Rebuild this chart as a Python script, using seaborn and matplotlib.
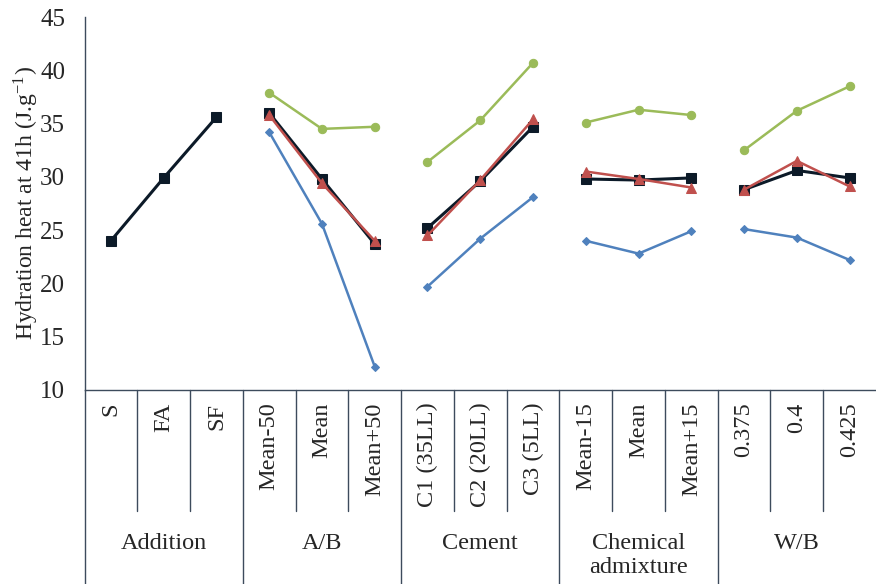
import numpy as np
import pandas as pd
import matplotlib
matplotlib.use('Agg')
import matplotlib.pyplot as plt
import seaborn as sns

# categorias del eje x y grupos
categories = ['S', 'FA', 'SF', 'Mean-50', 'Mean', 'Mean+50',
              'C1 (35LL)', 'C2 (20LL)', 'C3 (5LL)',
              'Mean-15', 'Mean', 'Mean+15', '0.375', '0.4', '0.425']
groups = ['Addition', 'A/B', 'Cement', 'Chemical\nadmixture', 'W/B']
group_sizes = [3, 3, 3, 3, 3]

nan = np.nan
# valores (J/g a 41h)
serie_negra = [24.0, 29.9, 35.6, 36.0, 29.8, 23.7, 25.2, 29.6, 34.7,
               29.8, 29.7, 29.9, 28.8, 30.6, 29.9]
serie_roja = [nan, nan, nan, 35.8, 29.4, 24.0, 24.5, 29.7, 35.4,
              30.5, 29.8, 29.0, 28.8, 31.5, 29.1]
serie_verde = [nan, nan, nan, 37.9, 34.5, 34.7, 31.4, 35.3, 40.7,
               35.1, 36.3, 35.8, 32.5, 36.2, 38.5]
serie_azul = [nan, nan, nan, 34.2, 25.6, 12.2, 19.7, 24.2, 28.1,
              24.0, 22.8, 24.9, 25.1, 24.3, 22.2]

# tabla larga para seaborn
grupo_de = np.repeat(np.arange(len(groups)), group_sizes)
pos = np.arange(len(categories))

def tabla(vals):
    df = pd.DataFrame({'x': pos, 'y': vals, 'grupo': grupo_de})
    return df.dropna()

sns.set_style('white')
plt.rcParams['font.family'] = ['Liberation Serif', 'DejaVu Serif']
plt.rcParams['mathtext.fontset'] = 'stix'

fig = plt.figure(figsize=(8.76, 5.84), dpi=100)
ax = fig.add_axes([84.5 / 876, 194 / 584, (876 - 84.5) / 876, 373 / 584])

estilos = [
    (serie_verde, '#9bbb59', 'o', 6, 1.8),
    (serie_azul, '#4f81bd', 'D', 4.5, 1.8),
    (serie_negra, '#0c1a28', 's', 7, 2.2),
    (serie_roja, '#c0504d', '^', 7, 1.8),
]
for i, (vals, color, mk, ms, lw) in enumerate(estilos):
    sns.lineplot(data=tabla(vals), x='x', y='y', units='grupo', estimator=None,
                 color=color, marker=mk, markersize=ms, linewidth=lw,
                 markeredgecolor=color, ax=ax, zorder=3 + i)

eje = '#3d4b5c'
ax.set_ylim(10, 45)
ax.set_yticks(range(10, 46, 5))
ax.set_xlim(-0.5, 14.31)
ax.set_xticks(pos)
ax.set_xticklabels(categories, rotation=90, va='top', fontsize=17.5)
ax.set_xticks(np.arange(-0.5, 14.6, 1), minor=True)
ax.tick_params(axis='x', which='major', length=0, pad=9)
ax.tick_params(axis='x', which='minor', direction='in', length=6, color=eje)
ax.tick_params(axis='y', direction='in', length=5, color=eje, labelsize=18, pad=14)
ax.set_xlabel('')
ax.set_ylabel(r'Hydration heat at 41h (J.g$^{\mathregular{-1}}$)', fontsize=17, labelpad=-1)

for s in ['top', 'right']:
    ax.spines[s].set_visible(False)
for s in ['left', 'bottom']:
    ax.spines[s].set_color(eje)
    ax.spines[s].set_linewidth(1.0)

# separadores bajo el eje
trans = ax.get_xaxis_transform()
limites = np.cumsum(group_sizes)[:-1] - 0.5
for b in np.arange(0.5, 14.0, 1):
    fondo = -0.52 if b in limites else -0.324
    ax.plot([b, b], [0, fondo], color=eje, lw=1, transform=trans, clip_on=False)
ax.plot([-0.5, -0.5], [0, -0.52], color=eje, lw=1, transform=trans, clip_on=False)

# nombres de los grupos
inicio = 0
for g, n in zip(groups, group_sizes):
    centro = inicio + (n - 1) / 2
    ax.text(centro, -0.383, g, transform=trans, ha='center', va='top',
            fontsize=17.5, linespacing=1.2)
    inicio += n

fig.savefig('out.png', dpi=100)
